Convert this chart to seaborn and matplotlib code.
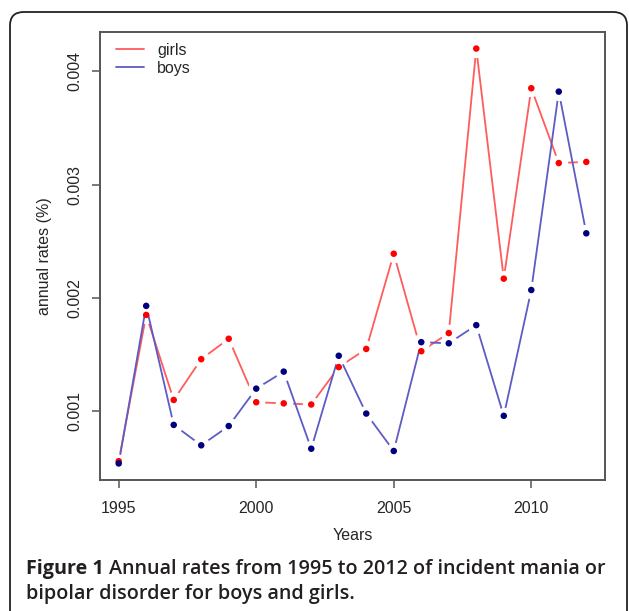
import pandas as pd
import seaborn as sns
import matplotlib.pyplot as plt
from matplotlib.patches import FancyBboxPatch
from matplotlib.lines import Line2D

# annual incidence rates
years = list(range(1995, 2013))
girls = [0.00056, 0.00185, 0.00110, 0.00146, 0.00164, 0.00108, 0.00107, 0.00106, 0.00139,
         0.00155, 0.00239, 0.00153, 0.00169, 0.00420, 0.00217, 0.00385, 0.00319, 0.00320]
boys = [0.00054, 0.00193, 0.00088, 0.00070, 0.00087, 0.00120, 0.00135, 0.00067, 0.00149,
        0.00098, 0.00065, 0.00161, 0.00160, 0.00176, 0.00096, 0.00207, 0.00382, 0.00257]
xticks = [1995, 2000, 2005, 2010]
yticks = [0.001, 0.002, 0.003, 0.004]

df = pd.DataFrame({
    'year': years * 2,
    'rate': girls + boys,
    'sex': ['girls'] * len(years) + ['boys'] * len(years),
})

line_col = {'girls': '#ff5c5c', 'boys': '#5c5cc4'}
pt_col = {'girls': '#ff0000', 'boys': '#00007f'}

sns.set_style('white')
plt.rcParams['font.family'] = ['Liberation Sans', 'DejaVu Sans']

fig = plt.figure(figsize=(6.29, 6.11), dpi=100)
ax = fig.add_axes([100 / 629, 1 - 480 / 611, 505 / 629, 448 / 611])

# R-style type="b": a white disc round every point cuts a gap in its own line
for i, s in enumerate(['girls', 'boys']):
    sub = df[df['sex'] == s]
    ax.plot(sub['year'], sub['rate'], color=line_col[s], lw=1.3,
            marker='o', ms=12.5, mfc='white', mec='white', mew=0,
            zorder=2 + i)
for i, s in enumerate(['girls', 'boys']):
    sub = df[df['sex'] == s]
    sns.scatterplot(data=sub, x='year', y='rate', color=pt_col[s], s=22,
                    edgecolor='none', ax=ax, zorder=5 + i)

ax.set_xlim(1994.32, 2012.68)
ax.set_ylim(0.000394, 0.004346)
ax.set_xticks(xticks)
ax.set_xticklabels([str(x) for x in xticks])
ax.set_yticks(yticks)
ax.set_yticklabels([f'{y:.3f}' for y in yticks], rotation=90, va='center')
ax.tick_params(direction='out', length=6, width=1.1, color='#555555',
               labelsize=11.5, pad=9, bottom=True, left=True)
ax.tick_params(axis='y', pad=7)
for sp in ax.spines.values():
    sp.set_color('#555555')
    sp.set_linewidth(1.4)
ax.set_xlabel('Years', fontsize=11.5, labelpad=9)
ax.set_ylabel('annual rates (%)', fontsize=11.5, labelpad=11)

handles = [Line2D([], [], color=line_col['girls'], lw=1.3),
           Line2D([], [], color=line_col['boys'], lw=1.3)]
ax.legend(handles, ['girls', 'boys'], loc='upper left', frameon=False,
          bbox_to_anchor=(0.031, 0.976), borderaxespad=0, borderpad=0,
          handlelength=1.8, handletextpad=0.8, labelspacing=0.2, fontsize=11.5)

# rounded frame of the figure panel (bottom runs off the image)
frame = FancyBboxPatch((10 / 629, -0.1), 617 / 629, 1.1 - 12 / 611,
                       boxstyle='round,pad=0,rounding_size=0.022',
                       transform=fig.transFigure, fill=False,
                       edgecolor='#222222', lw=1.3)
fig.patches.append(frame)

# caption
cap_font = ['Open Sans', 'DejaVu Sans']
cap_size = 14.2
t1 = fig.text(26 / 629, 1 - 569 / 611, 'Figure 1', family=cap_font, weight='bold',
              fontsize=cap_size, va='center', color='#231f20')
fig.canvas.draw()
bb = t1.get_window_extent()
fig.text((bb.x1 + 5) / fig.bbox.width, 1 - 569 / 611,
         'Annual rates from 1995 to 2012 of incident mania or',
         family=cap_font, weight='semibold', fontsize=cap_size, va='center', color='#231f20')
fig.text(26 / 629, 1 - 594 / 611, 'bipolar disorder for boys and girls.',
         family=cap_font, weight='semibold', fontsize=cap_size, va='center', color='#231f20')

fig.savefig('out.png', dpi=100)
